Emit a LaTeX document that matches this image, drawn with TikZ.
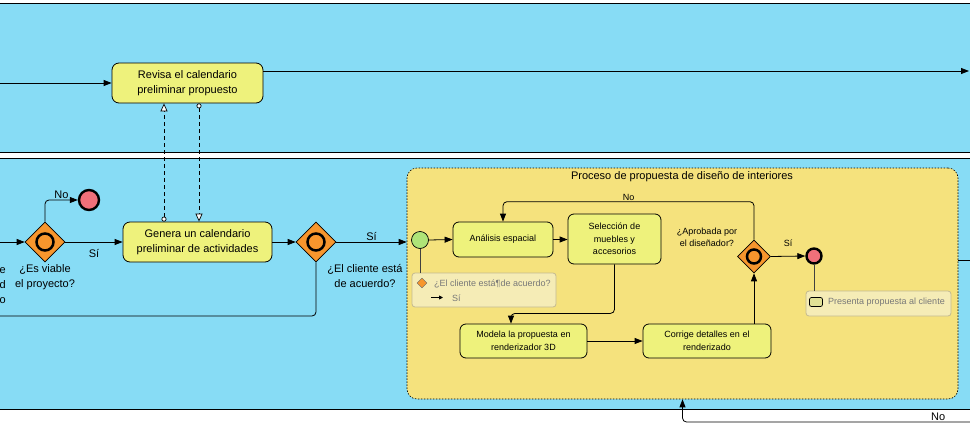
\documentclass[tikz,border=0pt]{standalone}
\usepackage{fontspec}
\setmainfont{Liberation Sans}
\usetikzlibrary{arrows.meta, positioning, shapes.geometric}

\definecolor{lanefill}{RGB}{135,220,245}
\definecolor{subfill}{RGB}{245,226,125}
\definecolor{taskfill}{RGB}{238,242,124}
\definecolor{gwfill}{RGB}{247,150,45}
\definecolor{endfill}{RGB}{240,112,122}
\definecolor{startfill}{RGB}{175,228,120}
\definecolor{annofill}{RGB}{245,236,182}
\definecolor{annodraw}{RGB}{195,185,145}
\definecolor{notegray}{RGB}{120,120,120}
\definecolor{iconfill}{RGB}{225,225,150}

\begin{document}
\begin{tikzpicture}[x=1pt, y=-1pt,
    task/.style={rectangle, rounded corners=7pt, draw, line width=0.8pt, fill=taskfill, align=center,
        font=\fontsize{11}{14.5}\selectfont, inner sep=2pt},
    subtask/.style={task, rounded corners=6pt, font=\fontsize{9}{12.5}\selectfont},
    gateway/.style={diamond, draw, line width=0.6pt, fill=gwfill, minimum width=40pt, minimum height=40pt, inner sep=0pt,
        path picture={\draw[line width=2.5pt] (path picture bounding box.center) circle (8.5pt);}},
    smallgw/.style={gateway, minimum width=33pt, minimum height=33pt,
        path picture={\draw[line width=2.5pt] (path picture bounding box.center) circle (7pt);}},
    endevent/.style={circle, draw, line width=2.4pt, fill=endfill, inner sep=0pt},
    startevent/.style={circle, draw, line width=0.7pt, fill=startfill, minimum size=17pt, inner sep=0pt},
    subproc/.style={rectangle, draw, line width=0.6pt, dash pattern=on 1.5pt off 1.5pt, rounded corners=10pt, fill=subfill},
    anno/.style={rectangle, rounded corners=3pt, draw=annodraw, line width=0.8pt, fill=annofill},
    notetext/.style={font=\fontsize{9}{11}\selectfont, text=notegray, inner sep=0pt},
    lbl/.style={font=\fontsize{11}{15}\selectfont, align=center, inner sep=1pt},
    sublbl/.style={font=\fontsize{9}{12}\selectfont, align=center, inner sep=1pt},
    flow/.style={draw, line width=0.8pt, rounded corners=4pt, -{Triangle[length=8pt, width=6pt]}},
    plain/.style={draw, line width=0.8pt, rounded corners=4pt},
    msg/.style={draw, line width=0.7pt, dash pattern=on 4pt off 3pt,
        {Circle[fill=white, length=5pt]}-{Triangle[fill=white, length=8pt, width=7pt]}},
    assoc/.style={draw, line width=0.8pt, black!75}
]
\useasboundingbox (0,0) rectangle (970,426);
\clip (0,0) rectangle (970,426);

% Lanes
\filldraw[fill=lanefill, line width=0.8pt] (-5,3) rectangle (975,152);
\filldraw[fill=lanefill, line width=0.8pt] (-5,158) rectangle (975,409);

% Top lane
\node[task, minimum width=151pt, minimum height=40pt] (rev) at (187.5,83) {Revisa el calendario\\preliminar propuesto};
\coordinate (revin) at (-5,83);
\coordinate (revout) at (969,71);

% Bottom lane
\node[gateway] (gw1) at (45,242) {};
\node[endevent, minimum size=20pt] (end1) at (89,200) {};
\node[task, minimum width=149pt, minimum height=40pt] (gen) at (197.5,242) {Genera un calendario\\preliminar de actividades};
\node[gateway] (gw2) at (316,242) {};
\node[lbl, below=1pt of gw1] (gw1lbl) {¿Es viable\\el proyecto?};
\node[lbl, below=1pt of gw2, xshift=49pt] (gw2lbl) {¿El cliente está\\de acuerdo?};
\node[lbl, anchor=east, align=right] (prevlbl) at (7,286) {e\\d\\o};
\coordinate (gw1in) at (-5,242);
\coordinate (backout) at (-5,316);

% Subprocess
\node[subproc, minimum width=551pt, minimum height=231pt] (sub) at (682.5,283.5) {};
\node[lbl] (subtitle) at (682,177) {Proceso de propuesta de diseño de interiores};
\node[startevent] (start) at (420,240) {};
\node[subtask, minimum width=100pt, minimum height=35pt] (ana) at (503,239.5) {Análisis espacial};
\node[subtask, minimum width=93pt, minimum height=50pt] (sel) at (614.5,239) {Selección de\\muebles y\\accesorios};
\node[subtask, minimum width=127pt, minimum height=34pt] (mod) at (523.5,341) {Modela la propuesta en\\renderizador 3D};
\node[subtask, minimum width=128pt, minimum height=34pt] (cor) at (707,341) {Corrige detalles en el\\renderizado};
\node[smallgw] (gw3) at (754,256.5) {};
\node[endevent, minimum size=15pt] (end2) at (814,256) {};
\node[sublbl] (gw3lbl) at (707,237) {¿Aprobada por\\el diseñador?};

% Annotations
\node[anno, minimum width=144pt, minimum height=34pt] (startnote) at (484,290) {};
\node[diamond, draw=black!60, fill=gwfill, minimum width=10pt, minimum height=10pt, inner sep=0pt] (noteicon) at (422,283) {};
\node[notetext, anchor=west] (notetxt) at (434,283.5) {¿El cliente está¶de acuerdo?};
\node[notetext, anchor=west] (notesi) at (452,298) {Sí};
\draw[line width=0.8pt, -{Triangle[length=4pt, width=4pt]}] (431,297.5) -- (443,297.5);
\node[anno, minimum width=145pt, minimum height=25pt] (endnote) at (878.5,303.5) {};
\node[rectangle, rounded corners=2pt, draw, line width=0.7pt, fill=iconfill, minimum width=13pt, minimum height=9pt, inner sep=0pt] (taskicon) at (816,302) {};
\node[notetext, anchor=west] (endtxt) at (828,302.5) {Presenta propuesta al cliente};

% Sequence flows
\draw[flow] (revin) -- (rev.west);
\draw[flow] (rev.east |- revout) -- (revout);
\draw[flow] (gw1in) -- (gw1.west);
\draw[flow] (gw1.north) |- node[lbl, pos=0.75, above] {No} (end1.west);
\draw[flow] (gw1.east) -- node[lbl, below=6pt] {Sí} (gen.west);
\draw[flow] (gen.east) -- (gw2.west);
\draw[flow] (gw2.east) -- node[lbl, above] {Sí} (sub.west |- gw2.east);
\draw[plain] (gw2.south) |- (backout);
\draw[flow] (start.east) -- (ana.west);
\draw[flow] (ana.east) -- (ana.east -| sel.west);
\draw[flow] (sel.south) -- ++(0,49) -| ([xshift=-12.5pt]mod.north);
\draw[flow] (mod.east) -- (cor.west);
\draw[flow] (gw3.south |- cor.north) -- (gw3.south);
\draw[flow] (gw3.north) -- ++(0,-38) -| node[sublbl, pos=0.25, above] {No} (ana.north);
\draw[flow] (gw3.east) -- node[sublbl, above=8pt] {Sí} (end2.west);
\draw[plain] (sub.east |- 0,260) -- (975,260);
\draw[flow] (975,422) -| node[lbl, pos=0.063, above, inner sep=0.5pt] {No} (sub.south);

% Message flows
\draw[msg] (164,0 |- gen.north) -- (164,0 |- rev.south);
\draw[msg] (199,0 |- rev.south) -- (199,0 |- gen.north);

% Associations
\draw[assoc] (start.south) -- (start.south |- startnote.north);
\draw[assoc] (end2.south) -- (end2.south |- endnote.north);
\end{tikzpicture}
\end{document}
